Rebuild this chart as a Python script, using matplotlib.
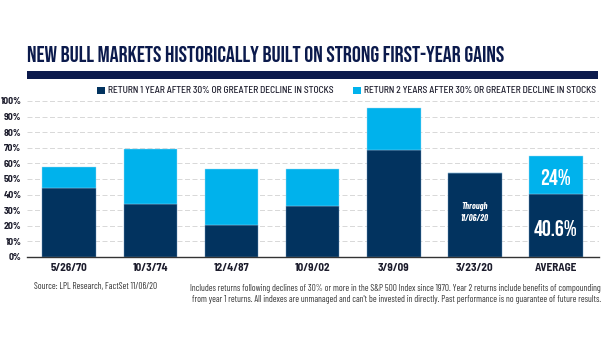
import matplotlib
matplotlib.use("Agg")
import matplotlib.pyplot as plt
from matplotlib.patches import Rectangle
from matplotlib.ticker import FuncFormatter
import numpy as np

# data
labels = ["5/26/70", "10/3/74", "12/4/87", "10/9/02", "3/9/09", "3/23/20", "AVERAGE"]
year1 = [44.0, 34.0, 20.5, 33.0, 68.5, 53.6, 40.6]
year2 = [13.5, 35.0, 36.0, 23.5, 27.0, 0.0, 24.0]

DARK = "#02335f"
LIGHT = "#00b2ec"
NAVY = "#0b1a4c"
HEAD = ["Bebas Neue", "Oswald", "DejaVu Sans"]
COND = ["Barlow Semi Condensed", "Roboto Condensed", "DejaVu Sans"]
SMALL = ["Barlow Condensed", "Roboto Condensed", "DejaVu Sans"]

W, H = 605, 341
fig = plt.figure(figsize=(W / 100, H / 100), dpi=100)
fig.patch.set_facecolor("white")

# axes placed in pixel coords of the reference
x0, x1, ytop, ybot = 27, 599, 101, 257
ax = fig.add_axes([x0 / W, 1 - ybot / H, (x1 - x0) / W, (ybot - ytop) / H])

x = np.arange(len(labels))
ax.bar(x, year1, width=0.66, color=DARK, edgecolor="#6f97bd", linewidth=0.3, zorder=3)
ax.bar(x, year2, bottom=year1, width=0.66, color=LIGHT, edgecolor="#9fdcf5",
       linewidth=0.3, zorder=3)

ax.set_xlim(-0.52, 6.53)
ax.set_ylim(0, 100)
ax.set_yticks(np.arange(0, 101, 10))
ax.yaxis.set_major_formatter(FuncFormatter(lambda v, p: f"{v:.0f}%"))
ax.set_xticks(x)
ax.set_xticklabels(labels, fontsize=8, fontweight="bold", color="#1c1c2c",
                   family=COND)
for t in ax.get_yticklabels():
    t.set_fontsize(7)
    t.set_fontweight("bold")
    t.set_color("#1c1c2c")
    t.set_family(COND)
ax.tick_params(axis="x", length=0, pad=4)
ax.tick_params(axis="y", length=0, pad=4)
ax.grid(axis="y", color="#d2d2d2", linestyle=(0, (6, 3)), linewidth=0.6, zorder=0)
for s in ["top", "right", "left"]:
    ax.spines[s].set_visible(False)
ax.spines["bottom"].set_color("#333333")
ax.spines["bottom"].set_linewidth(1.0)
ax.spines["bottom"].set_zorder(4)

# labels inside bars
ax.text(5, 28.5, "Through\n11/06/20", ha="center", va="center", color="white",
        fontsize=6.5, style="italic", fontweight="bold", family=SMALL, zorder=5,
        linespacing=1.3)
ax.text(6, year1[6] + year2[6] / 2 - 1.5, f"{year2[6]:.0f}%", ha="center", va="center",
        color="white", fontsize=16, family=HEAD, zorder=5)
ax.text(6, year1[6] / 2 - 1.5, f"{year1[6]:.1f}%", ha="center", va="center",
        color="white", fontsize=16, family=HEAD, zorder=5)

# title fitted to the reference width
title = fig.text(27 / W, 1 - 54 / H, "NEW BULL MARKETS HISTORICALLY BUILT ON STRONG FIRST-YEAR GAINS",
                 ha="left", va="center", color=NAVY, fontsize=20, family=HEAD)
fig.canvas.draw()
w = title.get_window_extent().width
title.set_fontsize(20 * (505 - 27) / w)

# navy rule under title
fig.add_artist(Rectangle((27 / W, 1 - 79 / H), (598 - 27) / W, 8 / H,
                         transform=fig.transFigure, color=NAVY, lw=0))

# legend
legend_items = [
    (97, DARK, "RETURN 1 YEAR AFTER 30% OR GREATER DECLINE IN STOCKS"),
    (353, LIGHT, "RETURN 2 YEARS AFTER 30% OR GREATER DECLINE IN STOCKS"),
]
for lx, col, txt in legend_items:
    fig.add_artist(Rectangle((lx / W, 1 - 94 / H), 7.5 / W, 7.5 / H,
                             transform=fig.transFigure, color=col, lw=0))
    fig.text((lx + 11) / W, 1 - 90.5 / H, txt, ha="left", va="center",
             fontsize=6.85, fontweight="medium", color="#1c1c2c", family=COND)

# footer
fig.text(34 / W, 1 - 287 / H, "Source: LPL Research, FactSet 11/06/20", ha="left",
         va="center", fontsize=6.6, color="#333333", family=SMALL)
fig.text(601 / W, 1 - 294 / H,
         "Includes returns following declines of 30% or more in the S&P 500 Index since 1970. "
         "Year 2 returns include benefits of compounding\n"
         "from year 1 returns. All indexes are unmanaged and can't be invested in directly. "
         "Past performance is no guarantee of future results.",
         ha="right", va="center", fontsize=6.55, color="#333333", family=SMALL,
         multialignment="right", linespacing=1.35)

fig.savefig("out.png", dpi=100, facecolor="white")
